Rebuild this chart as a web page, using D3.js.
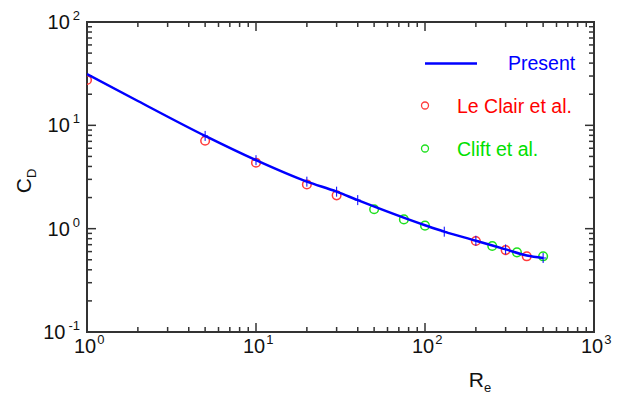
<!DOCTYPE html>
<html><head><meta charset="utf-8">
<script src="https://cdn.jsdelivr.net/npm/d3@7"></script>
<style>body{margin:0;background:#fff}svg{display:block}</style>
</head><body><svg id="chart" width="621" height="397"></svg>
<script>
// Drag coefficient vs Reynolds number
const presentRe = [1, 2, 5, 10, 20, 30, 40, 100, 130, 200, 300, 400, 500];
const presentCd = [31.4, 17.2, 7.9, 4.6, 2.85, 2.28, 1.89, 1.08, 0.935, 0.765, 0.63, 0.55, 0.52];
const presentMarkRe = [5, 10, 20, 30, 40, 130, 200, 300, 500];
const leClairRe = [1, 5, 10, 20, 30, 200, 300, 400];
const leClairCd = [27.5, 7.1, 4.35, 2.68, 2.10, 0.76, 0.62, 0.54];
const cliftRe = [50, 75, 100, 250, 350, 500];
const cliftCd = [1.54, 1.23, 1.07, 0.68, 0.59, 0.54];
const xTickExp = [0, 1, 2, 3];
const yTickExp = [-1, 0, 1, 2];
const legendLabels = ["Present", "Le Clair et al.", "Clift et al."];

const W = 621, H = 397;
const m = {left: 87, top: 22, right: 27, bottom: 65};
const pw = W - m.left - m.right, ph = H - m.top - m.bottom;
const FONT = "'Liberation Sans', Arial, Helvetica, sans-serif";
const BLUE = "#0000ff", RED = "#ff3b3b", GREEN = "#1ee01e", AX = "#333";

const svg = d3.select("#chart").style("font-family", FONT);
const g = svg.append("g").attr("transform", `translate(${m.left},${m.top})`);

const x = d3.scaleLog().domain([1, 1000]).range([0, pw]);
const y = d3.scaleLog().domain([0.1, 100]).range([ph, 0]);

g.append("clipPath").attr("id", "plotclip")
  .append("rect").attr("width", pw).attr("height", ph);

// tick marks on all four sides, pointing inward
const isMajor = v => Math.abs(Math.log10(v) - Math.round(Math.log10(v))) < 1e-9;
const majLen = 9, minLen = 5;
x.ticks().forEach(v => {
  const len = isMajor(v) ? majLen : minLen, px = x(v);
  g.append("line").attr("x1", px).attr("x2", px).attr("y1", ph).attr("y2", ph - len)
    .attr("stroke", AX).attr("stroke-width", 1.5);
  g.append("line").attr("x1", px).attr("x2", px).attr("y1", 0).attr("y2", len)
    .attr("stroke", AX).attr("stroke-width", 1.5);
});
y.ticks().forEach(v => {
  const len = isMajor(v) ? majLen : minLen, py = y(v);
  g.append("line").attr("x1", 0).attr("x2", len).attr("y1", py).attr("y2", py)
    .attr("stroke", AX).attr("stroke-width", 1.5);
  g.append("line").attr("x1", pw).attr("x2", pw - len).attr("y1", py).attr("y2", py)
    .attr("stroke", AX).attr("stroke-width", 1.5);
});

// frame
g.append("rect").attr("width", pw).attr("height", ph)
  .attr("fill", "none").attr("stroke", AX).attr("stroke-width", 2);

// tick labels as 10^n
yTickExp.forEach(e => {
  const t = g.append("text").attr("x", -7).attr("y", y(Math.pow(10, e)) + 7)
    .attr("text-anchor", "end").attr("font-size", 20).attr("fill", "#111");
  t.append("tspan").text("10");
  t.append("tspan").attr("dx", 3).attr("dy", -9).attr("font-size", 13).text(e);
});
xTickExp.forEach(e => {
  const t = g.append("text").attr("x", x(Math.pow(10, e)) - 13).attr("y", ph + 21)
    .attr("text-anchor", "start").attr("font-size", 20).attr("fill", "#111");
  t.append("tspan").text("10");
  t.append("tspan").attr("dx", 1).attr("dy", -9).attr("font-size", 13).text(e);
});

// axis titles
const yl = svg.append("text").attr("transform", "translate(31,181) rotate(-90)")
  .attr("text-anchor", "middle").attr("font-size", 21).attr("fill", "#111");
yl.append("tspan").text("C");
yl.append("tspan").attr("dy", 5).attr("font-size", 13).text("D");
const xl = svg.append("text").attr("x", 480).attr("y", 387)
  .attr("text-anchor", "middle").attr("font-size", 21).attr("fill", "#111");
xl.append("tspan").text("R");
xl.append("tspan").attr("dy", 5).attr("font-size", 13).text("e");

const plot = g.append("g").attr("clip-path", "url(#plotclip)");

// reference data
plot.selectAll(".leclair").data(leClairRe.map((r, i) => [r, leClairCd[i]])).enter()
  .append("circle").attr("cx", d => x(d[0])).attr("cy", d => y(d[1])).attr("r", 4.3)
  .attr("fill", "none").attr("stroke", RED).attr("stroke-width", 1.5);
plot.selectAll(".clift").data(cliftRe.map((r, i) => [r, cliftCd[i]])).enter()
  .append("circle").attr("cx", d => x(d[0])).attr("cy", d => y(d[1])).attr("r", 4.3)
  .attr("fill", "none").attr("stroke", GREEN).attr("stroke-width", 1.5);

// present curve
const pts = presentRe.map((r, i) => [r, presentCd[i]]);
plot.append("path").datum(pts)
  .attr("d", d3.line().x(d => x(d[0])).y(d => y(d[1])).curve(d3.curveMonotoneX))
  .attr("fill", "none").attr("stroke", BLUE).attr("stroke-width", 2.5);
const marks = pts.filter(d => presentMarkRe.includes(d[0]));
marks.forEach(d => {
  const px = x(d[0]), py = y(d[1]);
  plot.append("path").attr("d", `M${px},${py - 5}V${py + 5}M${px - 3},${py}H${px + 3}`)
    .attr("stroke", BLUE).attr("stroke-width", 1);
});

// legend
svg.append("line").attr("x1", 425).attr("x2", 477).attr("y1", 63.5).attr("y2", 63.5)
  .attr("stroke", BLUE).attr("stroke-width", 2.5);
svg.append("text").attr("x", 508).attr("y", 70).attr("font-size", 19.5)
  .attr("fill", BLUE).text(legendLabels[0]);
svg.append("circle").attr("cx", 425).attr("cy", 105.5).attr("r", 3.5)
  .attr("fill", "none").attr("stroke", RED).attr("stroke-width", 1.3);
svg.append("text").attr("x", 457).attr("y", 113).attr("font-size", 19.5)
  .attr("fill", "#ff0000").text(legendLabels[1]);
svg.append("circle").attr("cx", 425).attr("cy", 148.5).attr("r", 3.5)
  .attr("fill", "none").attr("stroke", GREEN).attr("stroke-width", 1.3);
svg.append("text").attr("x", 457).attr("y", 155.5).attr("font-size", 19.5)
  .attr("fill", "#00e000").text(legendLabels[2]);
</script></body></html>
